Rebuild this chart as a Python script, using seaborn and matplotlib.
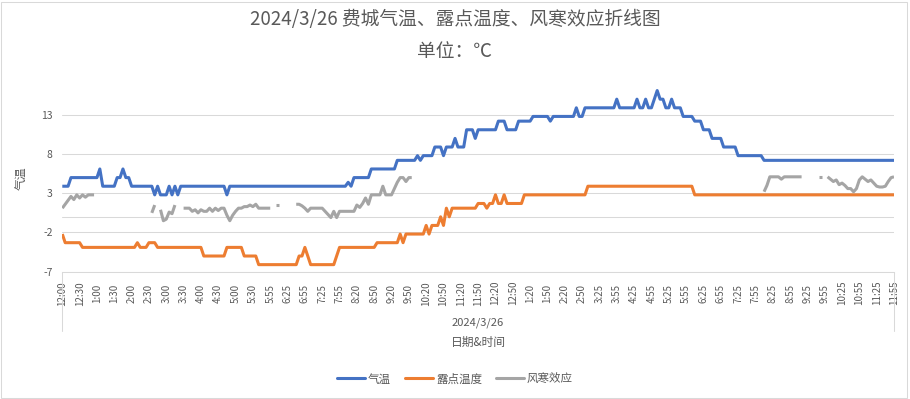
import numpy as np
import pandas as pd
import matplotlib
matplotlib.use("Agg")
import matplotlib.pyplot as plt
import seaborn as sns
from matplotlib.lines import Line2D

sns.set_theme(style="white")
plt.rcParams['font.family'] = ['Noto Sans CJK SC', 'DejaVu Sans']

NaN = np.nan

title = "2024/3/26 费城气温、露点温度、风寒效应折线图"
subtitle = "单位：℃"
series_names = ["气温", "露点温度", "风寒效应"]
colors = ["#4472C4", "#ED7D31", "#A5A5A5"]

# x tick labels (every 6th category of 289)
tick_labels = ["12:00", "12:30", "1:00", "1:30", "2:00", "2:30", "3:00", "3:30", "4:00", "4:30",
               "5:00", "5:30", "5:55", "6:25", "6:55", "7:25", "7:55", "8:20", "8:50", "9:20",
               "9:50", "10:20", "10:50", "11:20", "11:50", "12:20", "12:50", "1:20", "1:50", "2:20",
               "2:50", "3:25", "3:55", "4:25", "4:55", "5:25", "5:55", "6:25", "6:55", "7:25",
               "7:55", "8:25", "8:55", "9:25", "9:55", "10:25", "10:55", "11:25", "11:55"]

temp = [
    3.9, 3.9, 3.9, 5.0, 5.0, 5.0, 5.0, 5.0, 5.0, 5.0, 5.0, 5.0,
    5.0, 6.1, 3.9, 3.9, 3.9, 3.9, 3.9, 5.0, 5.0, 6.1, 5.0, 5.0,
    3.9, 3.9, 3.9, 3.9, 3.9, 3.9, 3.9, 3.9, 2.8, 3.9, 2.8, 2.8,
    2.8, 3.9, 2.8, 3.9, 2.8, 3.9, 3.9, 3.9, 3.9, 3.9, 3.9, 3.9,
    3.9, 3.9, 3.9, 3.9, 3.9, 3.9, 3.9, 3.9, 3.9, 2.8, 3.9, 3.9,
    3.9, 3.9, 3.9, 3.9, 3.9, 3.9, 3.9, 3.9, 3.9, 3.9, 3.9, 3.9,
    3.9, 3.9, 3.9, 3.9, 3.9, 3.9, 3.9, 3.9, 3.9, 3.9, 3.9, 3.9,
    3.9, 3.9, 3.9, 3.9, 3.9, 3.9, 3.9, 3.9, 3.9, 3.9, 3.9, 3.9,
    3.9, 3.9, 3.9, 4.4, 3.9, 5.0, 5.0, 5.0, 5.0, 5.0, 5.0, 6.1,
    6.1, 6.1, 6.1, 6.1, 6.1, 6.1, 6.1, 6.1, 7.2, 7.2, 7.2, 7.2,
    7.2, 7.2, 7.2, 7.8, 7.2, 7.8, 7.8, 7.8, 7.8, 8.9, 8.9, 8.9,
    7.8, 8.9, 8.9, 8.9, 10.0, 8.9, 8.9, 8.9, 11.1, 11.1, 11.1, 10.0,
    11.1, 11.1, 11.1, 11.1, 11.1, 11.1, 11.1, 12.2, 12.2, 12.2, 11.1, 11.1,
    11.1, 11.1, 12.2, 12.2, 12.2, 12.2, 12.2, 12.8, 12.8, 12.8, 12.8, 12.8,
    12.8, 12.2, 12.8, 12.8, 12.8, 12.8, 12.8, 12.8, 12.8, 12.8, 13.9, 12.8,
    12.8, 13.9, 13.9, 13.9, 13.9, 13.9, 13.9, 13.9, 13.9, 13.9, 13.9, 13.9,
    15.0, 13.9, 13.9, 13.9, 13.9, 13.9, 13.9, 15.0, 13.9, 13.9, 15.0, 13.9,
    13.9, 15.0, 16.1, 15.0, 15.0, 13.9, 13.9, 15.0, 13.9, 13.9, 13.9, 12.8,
    12.8, 12.8, 12.8, 12.2, 12.2, 12.2, 11.1, 11.1, 11.1, 10.0, 10.0, 10.0,
    10.0, 8.9, 8.9, 8.9, 8.9, 8.9, 7.8, 7.8, 7.8, 7.8, 7.8, 7.8,
    7.8, 7.8, 7.8, 7.2, 7.2, 7.2, 7.2, 7.2, 7.2, 7.2, 7.2, 7.2,
    7.2, 7.2, 7.2, 7.2, 7.2, 7.2, 7.2, 7.2, 7.2, 7.2, 7.2, 7.2,
    7.2, 7.2, 7.2, 7.2, 7.2, 7.2, 7.2, 7.2, 7.2, 7.2, 7.2, 7.2,
    7.2, 7.2, 7.2, 7.2, 7.2, 7.2, 7.2, 7.2, 7.2, 7.2, 7.2, 7.2,
    7.2,
]

dew = [
    -2.2, -3.3, -3.3, -3.3, -3.3, -3.3, -3.3, -3.9, -3.9, -3.9, -3.9, -3.9,
    -3.9, -3.9, -3.9, -3.9, -3.9, -3.9, -3.9, -3.9, -3.9, -3.9, -3.9, -3.9,
    -3.9, -3.9, -3.3, -3.9, -3.9, -3.9, -3.3, -3.3, -3.3, -3.9, -3.9, -3.9,
    -3.9, -3.9, -3.9, -3.9, -3.9, -3.9, -3.9, -3.9, -3.9, -3.9, -3.9, -3.9,
    -3.9, -5.0, -5.0, -5.0, -5.0, -5.0, -5.0, -5.0, -5.0, -3.9, -3.9, -3.9,
    -3.9, -3.9, -3.9, -5.0, -5.0, -5.0, -5.0, -5.0, -6.1, -6.1, -6.1, -6.1,
    -6.1, -6.1, -6.1, -6.1, -6.1, -6.1, -6.1, -6.1, -6.1, -6.1, -5.0, -5.0,
    -3.9, -5.0, -6.1, -6.1, -6.1, -6.1, -6.1, -6.1, -6.1, -6.1, -6.1, -5.0,
    -3.9, -3.9, -3.9, -3.9, -3.9, -3.9, -3.9, -3.9, -3.9, -3.9, -3.9, -3.9,
    -3.9, -3.3, -3.3, -3.3, -3.3, -3.3, -3.3, -3.3, -3.3, -2.2, -3.3, -2.2,
    -2.2, -2.2, -2.2, -2.2, -2.2, -2.2, -1.1, -2.2, -1.1, -1.1, -1.1, 0.0,
    -1.1, 1.1, 0.0, 1.1, 1.1, 1.1, 1.1, 1.1, 1.1, 1.1, 1.1, 1.1,
    1.7, 1.7, 1.7, 1.1, 1.7, 1.7, 2.8, 1.7, 1.7, 2.8, 1.7, 1.7,
    1.7, 1.7, 1.7, 1.7, 2.8, 2.8, 2.8, 2.8, 2.8, 2.8, 2.8, 2.8,
    2.8, 2.8, 2.8, 2.8, 2.8, 2.8, 2.8, 2.8, 2.8, 2.8, 2.8, 2.8,
    2.8, 2.8, 3.9, 3.9, 3.9, 3.9, 3.9, 3.9, 3.9, 3.9, 3.9, 3.9,
    3.9, 3.9, 3.9, 3.9, 3.9, 3.9, 3.9, 3.9, 3.9, 3.9, 3.9, 3.9,
    3.9, 3.9, 3.9, 3.9, 3.9, 3.9, 3.9, 3.9, 3.9, 3.9, 3.9, 3.9,
    3.9, 3.9, 3.9, 2.8, 2.8, 2.8, 2.8, 2.8, 2.8, 2.8, 2.8, 2.8,
    2.8, 2.8, 2.8, 2.8, 2.8, 2.8, 2.8, 2.8, 2.8, 2.8, 2.8, 2.8,
    2.8, 2.8, 2.8, 2.8, 2.8, 2.8, 2.8, 2.8, 2.8, 2.8, 2.8, 2.8,
    2.8, 2.8, 2.8, 2.8, 2.8, 2.8, 2.8, 2.8, 2.8, 2.8, 2.8, 2.8,
    2.8, 2.8, 2.8, 2.8, 2.8, 2.8, 2.8, 2.8, 2.8, 2.8, 2.8, 2.8,
    2.8, 2.8, 2.8, 2.8, 2.8, 2.8, 2.8, 2.8, 2.8, 2.8, 2.8, 2.8,
    2.8,
]

chill = [
    1.1, 1.6, 2.1, 2.6, 2.2, 2.8, 2.4, 2.8, 2.5, 2.8, 2.8, 2.8,
    NaN, NaN, NaN, NaN, NaN, NaN, NaN, NaN, NaN, NaN, NaN, NaN,
    NaN, NaN, NaN, NaN, NaN, NaN, NaN, 0.5, 1.5, NaN, 0.9, -0.5,
    -0.3, 0.6, 0.4, 1.5, NaN, NaN, 1.1, 1.1, 1.1, 0.7, 0.9, 0.5,
    0.9, 0.7, 0.7, 1.1, 0.7, 1.1, 0.8, 1.1, 1.1, 0.2, -0.5, 0.2,
    0.7, 1.1, 1.1, 1.3, 1.3, 1.5, 1.3, 1.6, 1.1, 1.1, 1.1, 1.1,
    1.1, NaN, 1.5, 1.5, NaN, NaN, NaN, NaN, NaN, 1.6, 1.6, 1.4,
    1.1, 0.7, 1.1, 1.1, 1.1, 1.1, 1.1, 0.7, 0.3, -0.1, 0.7, -0.1,
    0.7, 0.7, 0.7, 0.7, 0.7, 0.7, 1.5, 1.2, 1.7, 2.4, 1.6, 2.8,
    2.8, 2.8, 2.8, 3.9, 2.8, 2.8, 2.8, 3.6, 4.4, 5.0, 5.0, 4.5,
    5.0, 5.0, NaN, NaN, NaN, NaN, NaN, NaN, NaN, NaN, NaN, NaN,
    NaN, NaN, NaN, NaN, NaN, NaN, NaN, NaN, NaN, NaN, NaN, NaN,
    NaN, NaN, NaN, NaN, NaN, NaN, NaN, NaN, NaN, NaN, NaN, NaN,
    NaN, NaN, NaN, NaN, NaN, NaN, NaN, NaN, NaN, NaN, NaN, NaN,
    NaN, NaN, NaN, NaN, NaN, NaN, NaN, NaN, NaN, NaN, NaN, NaN,
    NaN, NaN, NaN, NaN, NaN, NaN, NaN, NaN, NaN, NaN, NaN, NaN,
    NaN, NaN, NaN, NaN, NaN, NaN, NaN, NaN, NaN, NaN, NaN, NaN,
    NaN, NaN, NaN, NaN, NaN, NaN, NaN, NaN, NaN, NaN, NaN, NaN,
    NaN, NaN, NaN, NaN, NaN, NaN, NaN, NaN, NaN, NaN, NaN, NaN,
    NaN, NaN, NaN, NaN, NaN, NaN, NaN, NaN, NaN, NaN, NaN, NaN,
    NaN, NaN, NaN, 3.2, 4.0, 5.1, 5.1, 5.1, 5.1, 4.8, 5.1, 5.1,
    5.1, 5.1, 5.1, 5.1, 5.1, NaN, NaN, NaN, NaN, NaN, 5.1, 5.1,
    NaN, 5.1, 4.8, 4.5, 4.7, 4.1, 4.3, 4.0, 3.6, 3.6, 3.2, 3.6,
    4.7, 5.1, 4.8, 4.5, 4.7, 4.3, 3.9, 3.8, 3.8, 3.9, 4.5, 5.0,
    5.1,
]

y_ticks = [-7, -2, 3, 8, 13]

# ---------- build long data frame (segments break at missing values) ----------
frames = []
for name, vals in zip(series_names, [temp, dew, chill]):
    v = np.array(vals, dtype=float)
    valid = ~np.isnan(v)
    seg = np.cumsum(np.r_[True, valid[1:] != valid[:-1]])
    frames.append(pd.DataFrame({"idx": np.arange(len(v)), "value": v,
                                "series": name, "seg": [f"{name}_{s}" for s in seg]})[valid])
df = pd.concat(frames, ignore_index=True)

W, H = 910, 399
fig = plt.figure(figsize=(W / 100, H / 100), dpi=100)
L, R, B, T = 62.3, 894, 271.7, 83.5
ax = fig.add_axes([L / W, 1 - B / H, (R - L) / W, (B - T) / H])

sns.lineplot(data=df, x="idx", y="value", hue="series", hue_order=series_names,
             units="seg", estimator=None, palette=colors, linewidth=2.2,
             legend=False, ax=ax)
for ln in ax.get_lines():
    ln.set_solid_joinstyle("round")
    ln.set_solid_capstyle("butt")

n = len(temp)
ax.set_xlim(0, n - 1)
ax.set_ylim(-7, 17)
ax.set_yticks(y_ticks)
ax.set_yticklabels([str(t) for t in y_ticks])
ax.set_xticks(np.arange(0, n, 6))
ax.set_xticklabels(tick_labels, rotation=90)
for lab in ax.get_xticklabels():
    lab.set_va("center")
    lab.set_ha("center")
ax.tick_params(axis="x", length=0, pad=15.5, labelsize=7, labelcolor="#595959")
ax.tick_params(axis="y", length=0, pad=7, labelsize=7.5, labelcolor="#595959")
ax.set_xlabel("")
ax.set_ylabel("")
ax.grid(axis="y", color="#d9d9d9", linewidth=0.75)
ax.grid(axis="x", visible=False)
ax.set_axisbelow(True)
ax.axhline(0, color="#d9d9d9", linewidth=0.75, zorder=0.5)
for s in ["left", "right", "top"]:
    ax.spines[s].set_visible(False)
ax.spines["bottom"].set_color("#d9d9d9")
ax.spines["bottom"].set_linewidth(0.75)

# category-axis label box lines
for xp in (L, R):
    fig.add_artist(Line2D([xp / W, xp / W], [1 - B / H, 1 - 331 / H],
                          transform=fig.transFigure, color="#d9d9d9", linewidth=0.75))

# chart border
fig.add_artist(plt.Rectangle((1 / W, 1 / H), 906 / W, 396 / H, transform=fig.transFigure,
                             fill=False, edgecolor="#d9d9d9", linewidth=0.75))

txt = "#595959"
fig.text(0.5, 1 - 20 / H, title, ha="center", va="center", fontsize=13.5, color=txt)
fig.text(0.5, 1 - 52 / H, subtitle, ha="center", va="center", fontsize=13.5, color=txt)
fig.text((L + R) / 2 / W, 1 - 323 / H, "2024/3/26", ha="center", va="center", fontsize=8, color=txt)
fig.text((L + R) / 2 / W, 1 - 342 / H, "日期&时间", ha="center", va="center", fontsize=8.5, color=txt)
fig.text(22 / W, 1 - 178 / H, "气温", ha="center", va="center", rotation=90, fontsize=8.5, color=txt)

handles = [Line2D([0], [0], color=c, linewidth=2.2) for c in colors]
fig.legend(handles, series_names, loc="center", bbox_to_anchor=(455 / W, 1 - 379 / H),
           ncol=3, frameon=False, fontsize=8.3, handlelength=2.4, handletextpad=0.3,
           columnspacing=1.2, labelcolor=txt)

fig.savefig("out.png", dpi=100, facecolor="white")
